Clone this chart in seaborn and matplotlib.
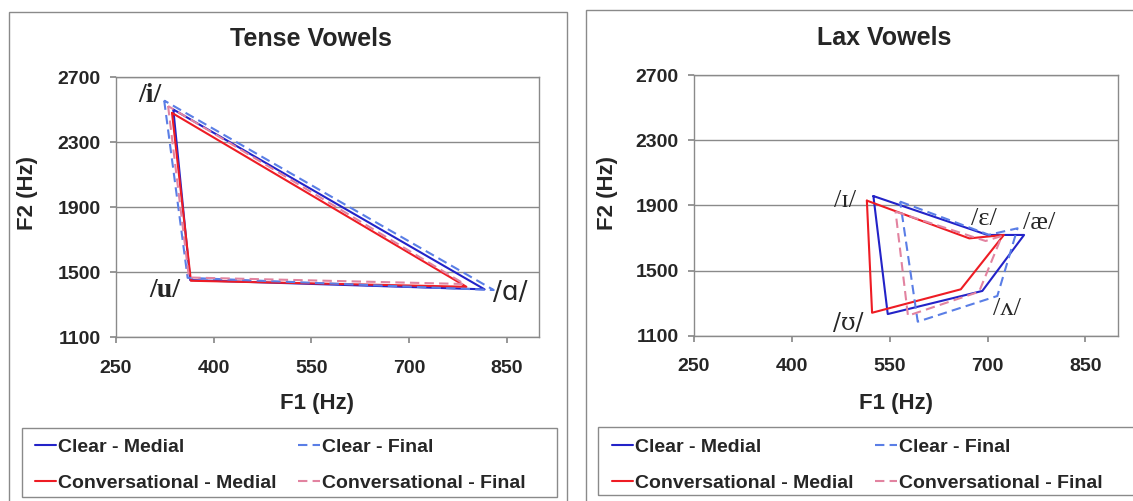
import pandas as pd
import matplotlib.pyplot as plt
import seaborn as sns
from matplotlib.lines import Line2D
from matplotlib.patches import Rectangle

sns.set_theme(style="white")
plt.rcParams['font.family'] = ['Liberation Sans', 'DejaVu Sans']

W, H = 1133, 501

conditions = ['Clear - Medial', 'Conversational - Medial', 'Clear - Final', 'Conversational - Final']

# Tense vowels: /i/, /u/, /ɑ/
tense_vowels = ['i', 'u', 'ɑ']
tense_clear_medial_f1 = [338, 364, 816]
tense_clear_medial_f2 = [2502, 1452, 1395]
tense_conv_medial_f1 = [336, 365, 788]
tense_conv_medial_f2 = [2481, 1448, 1411]
tense_clear_final_f1 = [324, 360, 830]
tense_clear_final_f2 = [2557, 1466, 1391]
tense_conv_final_f1 = [330, 362, 785]
tense_conv_final_f2 = [2523, 1468, 1428]

# Lax vowels: /ɪ/, /ɛ/, /æ/, /ʌ/, /ʊ/
lax_vowels = ['ɪ', 'ɛ', 'æ', 'ʌ', 'ʊ']
lax_clear_medial_f1 = [525, 700, 756, 692, 547]
lax_clear_medial_f2 = [1958, 1719, 1719, 1375, 1233]
lax_conv_medial_f1 = [515, 672, 725, 659, 523]
lax_conv_medial_f2 = [1930, 1698, 1719, 1385, 1241]
lax_clear_final_f1 = [566, 702, 746, 715, 593]
lax_clear_final_f2 = [1924, 1720, 1760, 1344, 1186]
lax_conv_final_f1 = [559, 697, 722, 687, 578]
lax_conv_final_f2 = [1862, 1682, 1713, 1370, 1223]

# vowel label positions (F1, F2)
tense_label_text = ['/i/', '/u/', '/ɑ/']
tense_label_f1 = [302, 325, 856]
tense_label_f2 = [2585, 1385, 1372]
lax_label_text = ['/ɪ/', '/ɛ/', '/æ/', '/ʌ/', '/ʊ/']
lax_label_f1 = [481, 695, 779, 730, 486]
lax_label_f2 = [1925, 1815, 1790, 1262, 1176]

palette = {'Clear - Medial': '#2323c8', 'Conversational - Medial': '#ee1c24',
           'Clear - Final': '#5a7ee6', 'Conversational - Final': '#e283a0'}
dashes = {'Clear - Medial': '', 'Conversational - Medial': '',
          'Clear - Final': (4.5, 2.5), 'Conversational - Final': (4.5, 2.5)}


def polygon_frame(f1_lists, f2_lists):
    rows = []
    for cond, f1, f2 in zip(conditions, f1_lists, f2_lists):
        # close the polygon by repeating the first vowel
        for x, y in zip(f1 + f1[:1], f2 + f2[:1]):
            rows.append({'F1': x, 'F2': y, 'cond': cond})
    return pd.DataFrame(rows)


tense_df = polygon_frame(
    [tense_clear_medial_f1, tense_conv_medial_f1, tense_clear_final_f1, tense_conv_final_f1],
    [tense_clear_medial_f2, tense_conv_medial_f2, tense_clear_final_f2, tense_conv_final_f2])
lax_df = polygon_frame(
    [lax_clear_medial_f1, lax_conv_medial_f1, lax_clear_final_f1, lax_conv_final_f1],
    [lax_clear_medial_f2, lax_conv_medial_f2, lax_clear_final_f2, lax_conv_final_f2])

fig = plt.figure(figsize=(W / 100, H / 100), dpi=100)
ax1 = fig.add_axes([116 / W, 1 - 337.3 / H, 423.3 / W, 260 / H])
ax2 = fig.add_axes([694 / W, 1 - 335.7 / H, 424 / W, 260.4 / H])

grey = '#8a8a8a'
for ax, df in [(ax1, tense_df), (ax2, lax_df)]:
    sns.lineplot(data=df, x='F1', y='F2', hue='cond', style='cond',
                 hue_order=conditions, style_order=conditions,
                 palette=palette, dashes=dashes, sort=False, estimator=None,
                 lw=1.5, legend=False, ax=ax)
    ax.set_xlim(250, 900)
    ax.set_ylim(1100, 2700)
    ax.set_xticks([250, 400, 550, 700, 850])
    ax.set_yticks([1100, 1500, 1900, 2300, 2700])
    ax.yaxis.grid(True, color=grey, lw=1)
    ax.set_axisbelow(True)
    for s in ax.spines.values():
        s.set_color(grey)
        s.set_linewidth(1)
    ax.tick_params(bottom=True, left=True, direction='out', length=4, color=grey,
                   labelsize=14)
    ax.tick_params(axis='x', pad=12)
    ax.tick_params(axis='y', pad=7)
    for lbl in ax.get_xticklabels() + ax.get_yticklabels():
        lbl.set_fontweight('bold')
    ax.set_xlabel('')
    ax.set_ylabel('')

serif = ['Liberation Serif', 'DejaVu Serif']
# vowel labels
for t, x, y in zip(tense_label_text, tense_label_f1, tense_label_f2):
    if t == '/ɑ/':
        ax1.text(x, y, t, fontsize=19, family=['DejaVu Sans'], ha='center', va='center')
    else:
        ax1.text(x, y, t, fontsize=20, fontweight='bold', family=serif,
                 ha='center', va='center')
for t, x, y in zip(lax_label_text, lax_label_f1, lax_label_f2):
    fam = ['DejaVu Serif'] if 'ʊ' in t else serif
    ax2.text(x, y, t, fontsize=19 if 'ʊ' not in t else 17, family=fam,
             ha='center', va='center')

# titles and axis labels
fig.text(310.7 / W, 1 - 39.3 / H, 'Tense Vowels', fontsize=18, fontweight='bold', ha='center', va='center')
fig.text(884.4 / W, 1 - 38.3 / H, 'Lax Vowels', fontsize=18, fontweight='bold', ha='center', va='center')
fig.text(317.5 / W, 1 - 403 / H, 'F1 (Hz)', fontsize=16, fontweight='bold', ha='center', va='center')
fig.text(896 / W, 1 - 403 / H, 'F1 (Hz)', fontsize=16, fontweight='bold', ha='center', va='center')
fig.text(27 / W, 1 - 193 / H, 'F2 (Hz)', fontsize=16, fontweight='bold', ha='center', va='center', rotation=90)
fig.text(607.5 / W, 1 - 193 / H, 'F2 (Hz)', fontsize=16, fontweight='bold', ha='center', va='center', rotation=90)


# chart area borders and legend boxes
def box(x0, y0, x1, y1):
    fig.add_artist(Rectangle((x0 / W, 1 - y1 / H), (x1 - x0) / W, (y1 - y0) / H,
                             transform=fig.transFigure, fill=False, ec=grey, lw=1))


box(9, 12, 567, 515)
box(586, 10, 1145, 515)
box(22, 428, 557, 497)
box(598, 427, 1145, 495)

handles = [Line2D([], [], color=palette[c], lw=1.5,
                  dashes=dashes[c] if dashes[c] else (None, None)) for c in conditions]
for x0 in [35, 612]:
    fig.legend(handles, conditions, ncol=2, loc='upper left',
               bbox_to_anchor=(x0 / W, 1 - 438 / H), frameon=False,
               prop={'weight': 'bold', 'size': 14}, handlelength=1.1,
               handletextpad=0.1, columnspacing=1.1, labelspacing=0.95,
               borderpad=0, borderaxespad=0)

fig.savefig('out.png', dpi=100)
